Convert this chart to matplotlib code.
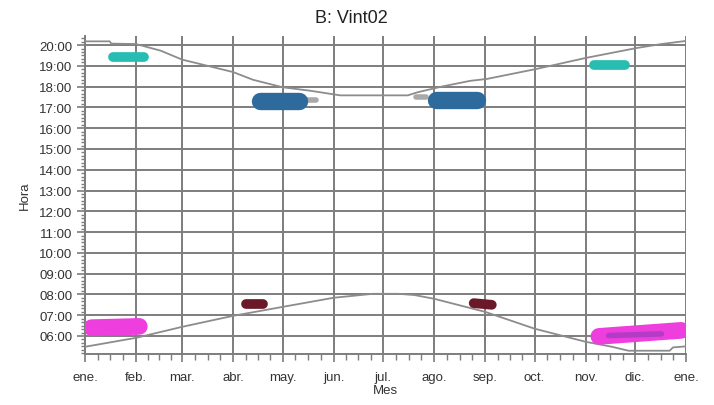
import matplotlib
matplotlib.use("Agg")
import matplotlib.pyplot as plt
from matplotlib.ticker import FixedLocator, MultipleLocator, FuncFormatter

plt.rcParams["font.family"] = ["Liberation Sans", "DejaVu Sans"]

# month starts (day of year) and labels
month_days = [0, 31, 59, 90, 120, 151, 181, 212, 243, 273, 304, 334, 365]
month_labels = ["ene.", "feb.", "mar.", "abr.", "may.", "jun.", "jul.",
                "ago.", "sep.", "oct.", "nov.", "dic.", "ene."]

# sunset curve (hours)
sunset_days = [0, 15, 16, 31, 46, 59, 90, 102, 120, 137, 155, 196, 202, 217, 234, 244, 274, 304, 335, 350, 365]
sunset_hours = [20.18, 20.18, 20.07, 20.05, 19.73, 19.3, 18.7, 18.33, 17.97, 17.80, 17.58,
                17.58, 17.73, 18.01, 18.28, 18.37, 18.85, 19.38, 19.86, 20.05, 20.2]

# sunrise curve (hours)
sunrise_days = [0, 31, 59, 90, 120, 151, 175, 190, 200, 212, 243, 273, 304, 320, 330, 355, 357, 365]
sunrise_hours = [5.48, 5.91, 6.44, 6.97, 7.40, 7.84, 8.03, 8.03, 7.97, 7.79, 7.16, 6.35,
                 5.72, 5.48, 5.29, 5.29, 5.45, 5.50]

# activity clusters: start/end day and hour
cyan_days = [[17, 36], [309, 328]]
cyan_hours = [[19.45, 19.45], [19.02, 19.02]]

blue_days = [[106, 130], [213, 238]]
blue_hours = [[17.3, 17.3], [17.38, 17.38]]
grey_days = [[134, 140], [201, 207]]
grey_hours = [[17.36, 17.36], [17.5, 17.5]]

maroon_days = [[98, 108], [236, 247]]
maroon_hours = [[7.55, 7.55], [7.58, 7.5]]

magenta_days = [[4, 33], [312, 362]]
magenta_hours = [[6.4, 6.46], [5.98, 6.27]]
purple_days = [[318, 350]]
purple_hours = [[6.02, 6.1]]

fig = plt.figure(figsize=(7.14, 4.06), dpi=100)
ax = fig.add_axes([0.119, 0.126, 0.842, 0.782])

grid_c = "#7d7d7d"
ax.set_xlim(0, 365)
ax.set_ylim(5.14, 20.42)

# sun curves
ax.plot(sunset_days, sunset_hours, color="#8c8c8c", lw=1.3, zorder=3)
ax.plot(sunrise_days, sunrise_hours, color="#8c8c8c", lw=1.3, zorder=3)

def blobs(days, hours, color, lw):
    for d, h in zip(days, hours):
        ax.plot(d, h, color=color, lw=lw, solid_capstyle="round", zorder=4)

blobs(grey_days, grey_hours, "#a9a9a9", 4)
blobs(cyan_days, cyan_hours, "#28bdb3", 7)
blobs(blue_days, blue_hours, "#2e6b9c", 12.5)
blobs(maroon_days, maroon_hours, "#6b1828", 7)
blobs(magenta_days, magenta_hours, "#ee3ede", 12)
blobs(purple_days, purple_hours, "#b43cc4", 4)

# axes styling
ax.xaxis.set_major_locator(FixedLocator(month_days))
ax.set_xticklabels(month_labels)
minor_x = []
for a, b in zip(month_days[:-1], month_days[1:]):
    minor_x += [a + (b - a) * k / 4 for k in (1, 2, 3)]
ax.xaxis.set_minor_locator(FixedLocator(minor_x))

ax.yaxis.set_major_locator(FixedLocator(list(range(6, 21))))
ax.yaxis.set_major_formatter(FuncFormatter(lambda v, p: "%02d:00" % int(round(v))))
ax.yaxis.set_minor_locator(MultipleLocator(1 / 6))

ax.grid(True, which="major", color=grid_c, lw=1.4, zorder=1)
for s in ["top", "right"]:
    ax.spines[s].set_visible(False)
for s in ["left", "bottom"]:
    ax.spines[s].set_color(grid_c)
    ax.spines[s].set_linewidth(1.4)

ax.tick_params(which="major", width=1.2, color=grid_c, labelsize=9.5, labelcolor="#333333")
ax.tick_params(which="minor", width=1, color=grid_c)
ax.tick_params(axis="x", which="minor", direction="out", length=4)
ax.tick_params(axis="x", which="major", direction="out", length=6, pad=6)
ax.tick_params(axis="y", which="minor", direction="out", length=3)
ax.tick_params(axis="y", which="major", direction="out", length=6, pad=3)

ax.set_xlabel("Mes", fontsize=9.5, color="#333333", labelpad=1)
ax.set_ylabel("Hora", fontsize=9.5, color="#333333", labelpad=6)
fig.text(0.492, 0.955, "B: Vint02", ha="center", va="center", fontsize=13, color="#222222")

fig.savefig("out.png", dpi=100, facecolor="white")
